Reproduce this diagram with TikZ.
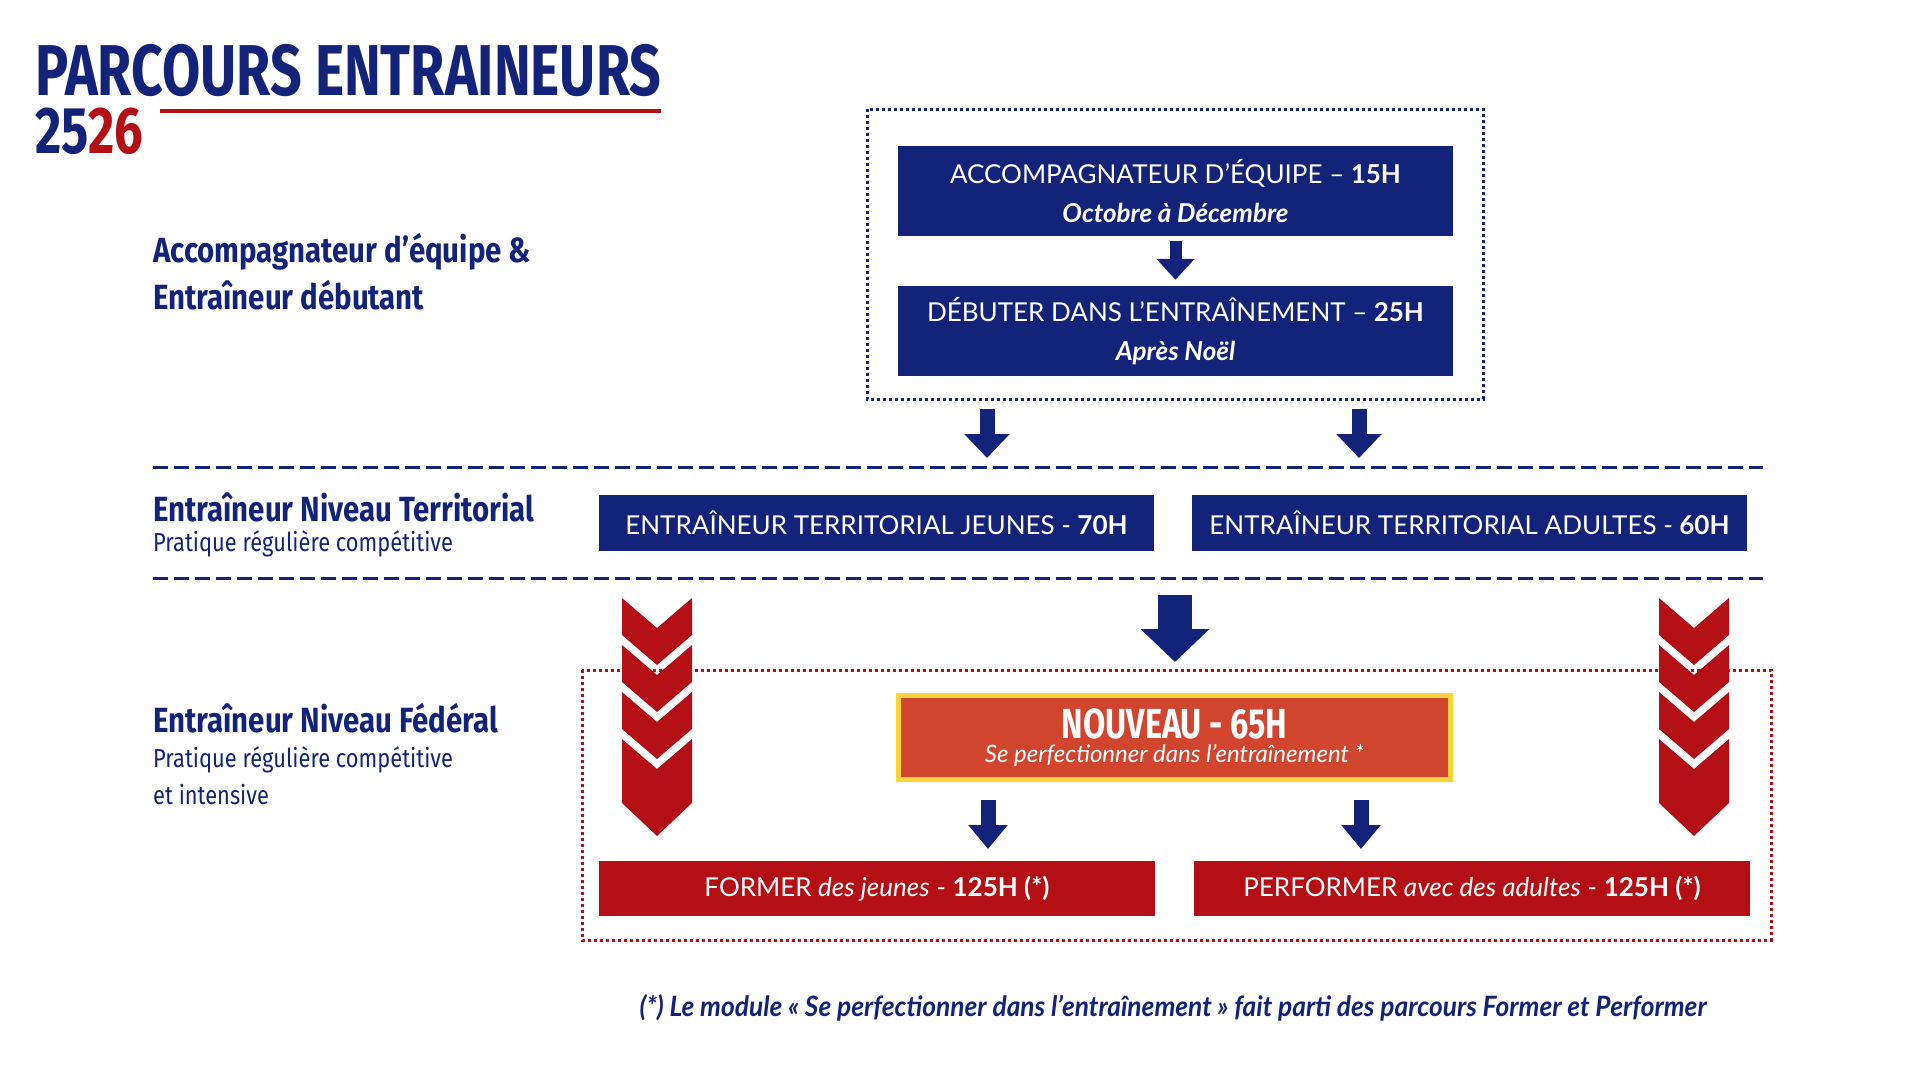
\documentclass[tikz,border=0pt]{standalone}
\usepackage{fontspec}
\setmainfont{Lato}
\newfontfamily\condfont[FakeStretch=0.77]{Fira Sans}
\newfontfamily\labelfont[FakeStretch=0.84]{Fira Sans}
\newfontfamily\latocond[FakeStretch=0.94]{Lato}
\usepackage{tikz}
\usetikzlibrary{arrows.meta, calc, positioning}
\usepackage{xcolor}
\definecolor{navy}{HTML}{13237A}
\definecolor{fedred}{HTML}{B30F14}
\definecolor{neworange}{HTML}{D1452F}
\definecolor{newyellow}{HTML}{FDD33A}

\tikzset{
  navybox/.style={fill=navy, text=white, inner sep=0pt, align=center,
    minimum width=555pt, font=\fontsize{26}{39}\selectfont},
  redbox/.style={fill=fedred, text=white, inner sep=0pt, align=center,
    minimum width=556pt, minimum height=55pt, font=\fontsize{26}{30}\selectfont},
  label/.style={anchor=west, text=navy, inner sep=0pt, align=left},
  rowline/.style={navy, line width=3pt, dash pattern=on 15pt off 6pt},
  blk/.style={navy, line width=#1},
}
% chevron column
\newcommand{\chevrons}[2]{%
  \foreach \t in {0,47,94}
    \fill[fedred] (#1-35,#2+\t) -- (#1,#2+\t+30) -- (#1+35,#2+\t)
      -- (#1+35,#2+\t+37) -- (#1,#2+\t+67) -- (#1-35,#2+\t+37) -- cycle;
  \fill[fedred] (#1-35,#2+141) -- (#1,#2+171) -- (#1+35,#2+141)
    -- (#1+35,#2+205) -- (#1,#2+238) -- (#1-35,#2+205) -- cycle;}

\begin{document}
\begin{tikzpicture}[x=1pt, y=-1pt]
\useasboundingbox (0,0) rectangle (1920,1080);

% title
\node (title) [anchor=north west, inner sep=0pt, text=navy,
  font=\condfont\bfseries\fontsize{72}{72}\selectfont] at (35,44) {PARCOURS ENTRAINEURS};
\node (year) [anchor=north west, inner sep=0pt,
  font=\condfont\bfseries\fontsize{66}{66}\selectfont] at (35,108)
  {\textcolor{navy}{25}\textcolor{fedred}{26}};
\draw[fedred, line width=4pt] (160,111) -- (661,111);

% row labels
\node (lab1) [label, font=\labelfont\bfseries\fontsize{35}{47}\selectfont] at (153,272)
  {Accompagnateur d’équipe \&\\Entraîneur débutant};
\node (lab2) [label, font=\labelfont\bfseries\fontsize{35}{35}\selectfont] at (153,507)
  {Entraîneur Niveau Territorial};
\node (lab2s) [label, font=\labelfont\fontsize{26}{26}\selectfont] at (153,544)
  {Pratique régulière compétitive};
\node (lab3) [label, font=\labelfont\bfseries\fontsize{35}{35}\selectfont] at (153,718)
  {Entraîneur Niveau Fédéral};
\node (lab3s) [label, font=\labelfont\fontsize{26}{37}\selectfont] at (153,776)
  {Pratique régulière compétitive\\et intensive};

% first level
\draw[navy, line width=3pt, dash pattern=on 3pt off 3pt] (867,109) rectangle (1483,399);
\node (accomp) [navybox, minimum height=90pt] at (1175.5,191)
  {ACCOMPAGNATEUR D’ÉQUIPE – \textbf{15H}\\\textbf{\textit{Octobre à Décembre}}};
\node (debut) [navybox, minimum height=90pt] at (1175.5,331)
  {DÉBUTER DANS L’ENTRAÎNEMENT – \textbf{25H}\\\textbf{\textit{Après Noël}}};
\draw[blk=12pt, -{Triangle[width=37pt, length=21pt]}, shorten <=5pt, shorten >=6pt]
  (accomp) -- (debut);

% territorial level
\draw[rowline] (153,467) -- (1763,467);
\draw[rowline] (153,578) -- (1763,578);
\node (terrJ) [navybox, minimum width=555pt, minimum height=56pt] at (876.5,523)
  {ENTRAÎNEUR TERRITORIAL JEUNES - \textbf{70H}};
\node (terrA) [navybox, minimum width=555pt, minimum height=56pt] at (1469.5,523)
  {ENTRAÎNEUR TERRITORIAL ADULTES - \textbf{60H}};
\coordinate (s1) at (987,409);
\coordinate (s2) at (1359,409);
\draw[blk=15pt, -{Triangle[width=44pt, length=24pt]}] (s1) -- (987,458);
\draw[blk=15pt, -{Triangle[width=44pt, length=24pt]}] (s2) -- (1359,458);

% federal level
\draw[fedred, line width=3pt, dash pattern=on 3pt off 3pt] (582,670) rectangle (1771,940);
\chevrons{657}{598}
\chevrons{1694}{598}
\coordinate (s3) at (1175,595);
\draw[blk=34pt, -{Triangle[width=67pt, length=33pt]}] (s3) -- (1175,662);
\node (nouveau) [fill=neworange, draw=newyellow, line width=5pt, text=white,
  minimum width=552pt, minimum height=84pt, inner sep=0pt, align=center] at (1174.5,737.5)
  {{\condfont\bfseries\fontsize{42}{42}\selectfont NOUVEAU - 65H}\\[4pt]
   {\itshape\fontsize{24}{24}\selectfont Se perfectionner dans l’entraînement *}};
\node (former) [redbox] at (877,888.5)
  {FORMER \textit{des jeunes} - \textbf{125H (*)}};
\node (perf) [redbox] at (1472,888.5)
  {PERFORMER \textit{avec des adultes} - \textbf{125H (*)}};
\coordinate (s4) at (988,800);
\coordinate (s5) at (1361,800);
\draw[blk=15pt, -{Triangle[width=38pt, length=24pt]}] (s4) -- (988,849);
\draw[blk=15pt, -{Triangle[width=38pt, length=24pt]}] (s5) -- (1361,849);

% footnote
\node (note) [text=navy, inner sep=0pt, font=\latocond\bfseries\itshape\fontsize{28}{28}\selectfont]
  at (1173,1008)
  {(*) Le module « Se perfectionner dans l’entraînement » fait parti des parcours Former et Performer};
\end{tikzpicture}
\end{document}
